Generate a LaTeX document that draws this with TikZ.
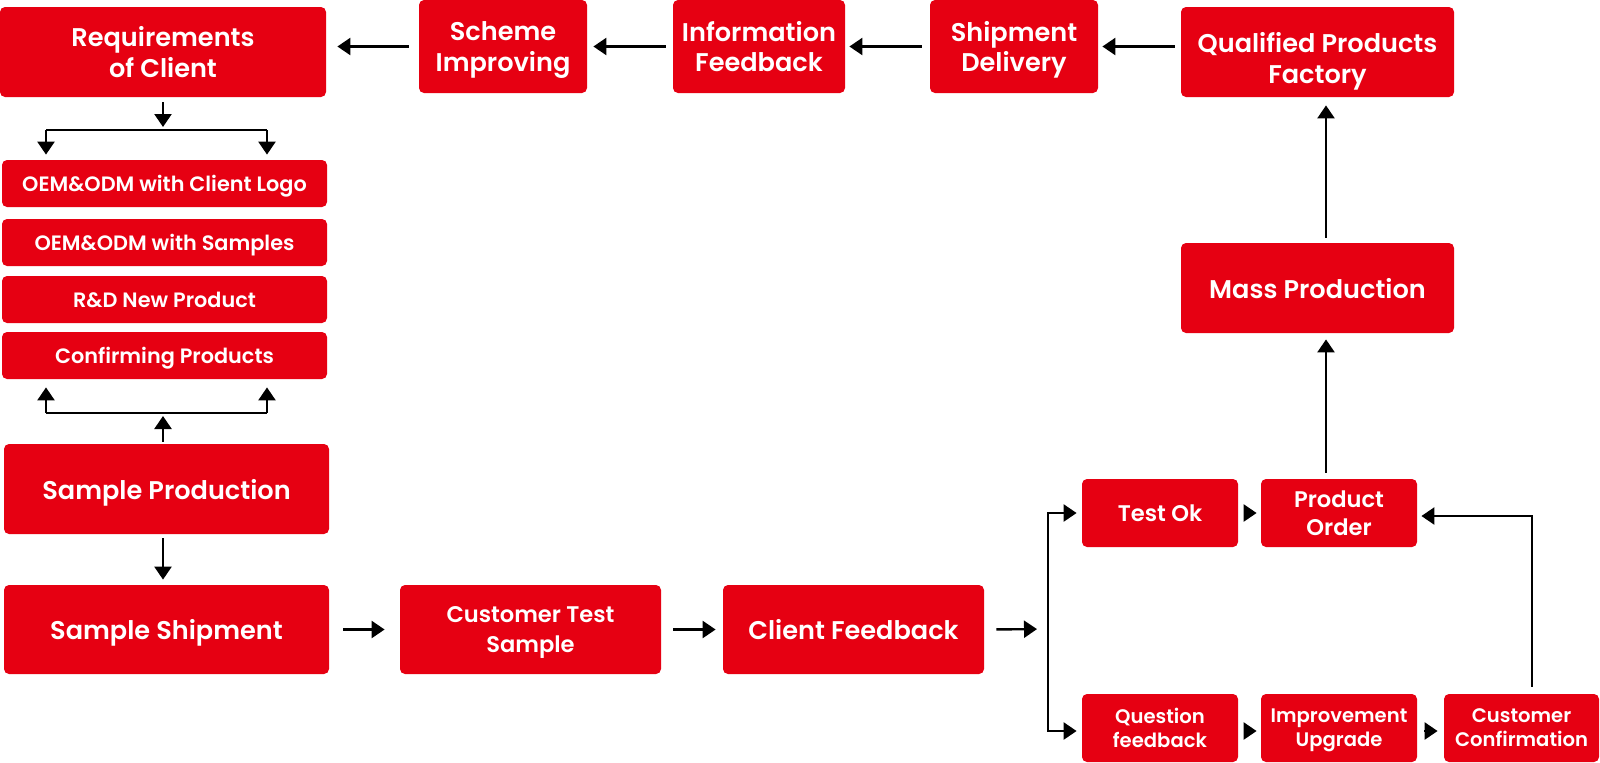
\documentclass[tikz,border=0pt]{standalone}
\usepackage{fontspec}
\setmainfont{Poppins}[UprightFont={* SemiBold}]
\usepackage{tikz}
\usetikzlibrary{arrows.meta}
\definecolor{boxred}{RGB}{230,0,18}

\begin{document}
\begin{tikzpicture}[x=0.5pt,y=-0.5pt]

\tikzset{
    box/.style={fill=boxred,text=white,rounded corners=2.5pt,align=center,inner sep=0pt,text depth=0pt},
    bigtext/.style={font=\fontsize{12.8}{15.3}\selectfont},
    midtext/.style={font=\fontsize{11.3}{14}\selectfont},
    listtext/.style={font=\fontsize{10.4}{12}\selectfont},
    smalltext/.style={font=\fontsize{9.8}{12}\selectfont},
    edge/.style={-{Triangle[length=6.5pt,width=8.5pt]},line width=1.2pt,shorten <=3pt,shorten >=2pt},
    bar/.style={line width=1.2pt}
}
% variables
\def\colx{163}
\def\leftx{46}
\def\rightx{267}

\useasboundingbox (0,0) rectangle (1600,762);

% ----------- top row ----------- %
\node[box,bigtext,minimum width=163pt,minimum height=45pt] (req) at (163,52) {Requirements\\of Client};
\node[box,bigtext,minimum width=84pt,minimum height=46.5pt] (scheme) at (503,46.5) {Scheme\\Improving};
\node[box,bigtext,minimum width=86pt,minimum height=46.5pt] (info) at (759,46.5) {Information\\Feedback};
\node[box,bigtext,minimum width=84pt,minimum height=46.5pt] (ship) at (1014,46.5) {Shipment\\Delivery};
\node[box,bigtext,text height=31pt,minimum width=136.5pt,minimum height=45pt] (qual) at (1317.5,52) {Qualified Products\\Factory};
\node[box,bigtext,minimum width=136.5pt,minimum height=45pt] (mass) at (1317.5,288) {Mass Production};

% ----------- left column ----------- %
\node[box,listtext,minimum width=162.5pt,minimum height=23.5pt] (logo) at (164.5,183.5) {OEM\&ODM with Client Logo};
\node[box,listtext,minimum width=162.5pt,minimum height=23.5pt] (samples) at (164.5,242.5) {OEM\&ODM with Samples};
\node[box,listtext,minimum width=162.5pt,minimum height=23.5pt] (rnd) at (164.5,299.5) {R\&D New Product};
\node[box,listtext,minimum width=162.5pt,minimum height=23.5pt] (confirm) at (164.5,355.5) {Confirming Products};
\node[box,bigtext,minimum width=162.5pt,minimum height=45pt] (sprod) at (166.5,489) {Sample Production};
\node[box,bigtext,minimum width=162.5pt,minimum height=44.5pt] (sship) at (166.5,629.5) {Sample Shipment};

% ----------- bottom row ----------- %
\node[box,font=\fontsize{11.3}{15}\selectfont,minimum width=130.5pt,minimum height=44.5pt] (ctest) at (530.5,629.5) {Customer Test\\Sample};
\node[box,bigtext,minimum width=130.5pt,minimum height=44.5pt] (cfb) at (853.5,629.5) {Client Feedback};

% ----------- right block ----------- %
\node[box,midtext,minimum width=78pt,minimum height=34pt] (testok) at (1160,513) {Test Ok};
\node[box,midtext,minimum width=78pt,minimum height=34pt] (order) at (1339,513) {Product\\Order};
\node[box,smalltext,minimum width=78pt,minimum height=34pt] (quest) at (1160,728) {Question\\feedback};
\node[box,smalltext,minimum width=78pt,minimum height=34pt] (improve) at (1339,728) {Improvement\\Upgrade};
\node[box,smalltext,minimum width=77.5pt,minimum height=34pt] (custconf) at (1521.5,728) {Customer\\Confirmation};

% branch points
\coordinate (split) at (\colx,130);
\coordinate (splitl) at (\leftx,130);
\coordinate (splitr) at (\rightx,130);
\coordinate (join) at (\colx,413);
\coordinate (joinl) at (\leftx,413);
\coordinate (joinr) at (\rightx,413);
\coordinate (fork) at (1048,629);

% top row edges
\draw[edge] (qual.west |- ship.east) -- (ship.east);
\draw[edge,shorten <=4pt] (ship.west) -- (info.east);
\draw[edge,shorten <=3.5pt,shorten >=3pt] (info.west) -- (scheme.east);
\draw[edge,shorten <=5pt,shorten >=5.5pt] (scheme.west) -- (req.east |- scheme.west);

% left column edges
\draw[edge,shorten <=2.5pt,shorten >=1.5pt] (req.south -| split) -- (split);
\draw[bar] (splitl) -- (splitr);
\draw[edge,shorten <=0pt,shorten >=2.5pt] (splitl) -- (splitl |- logo.north);
\draw[edge,shorten <=0pt,shorten >=2.5pt] (splitr) -- (splitr |- logo.north);
\draw[bar] (joinl) -- (joinr);
\draw[edge,shorten <=0pt,shorten >=4pt] (joinl) -- (joinl |- confirm.south);
\draw[edge,shorten <=0pt,shorten >=4pt] (joinr) -- (joinr |- confirm.south);
\draw[edge,shorten <=1pt,shorten >=1.5pt] (sprod.north -| join) -- (join);
\draw[edge,shorten <=2pt,shorten >=2.5pt] (sprod.south -| join) -- (sship.north -| join);

% bottom row edges
\draw[edge,shorten <=7pt,shorten >=7.5pt] (sship.east) -- (ctest.west);
\draw[edge,shorten <=6pt,shorten >=3.5pt] (ctest.east) -- (cfb.west);
\draw[edge,shorten <=6pt,shorten >=5.5pt] (cfb.east) -- (fork);
\draw[edge,shorten <=0pt,shorten >=2.5pt] (fork) |- (testok.west);
\draw[edge,shorten <=0pt,shorten >=2.5pt] (fork) |- ([yshift=-1.5pt]quest.west);

% right block edges
\draw[edge] (testok.east) -- (order.east -| order.west);
\draw[edge,shorten <=3.5pt] ([yshift=-1.5pt]quest.east) -- ([yshift=-1.5pt]improve.west);
\draw[edge,shorten <=3.5pt,shorten >=3pt] ([yshift=-1.5pt]improve.east) -- ([yshift=-1.5pt]custconf.west);
\draw[edge,shorten <=3.5pt] ([xshift=5.25pt]custconf.north) |- ([yshift=-1.5pt]order.east);
\draw[edge,shorten >=3pt] ([xshift=-6.5pt]order.north) -- ([xshift=4.25pt]mass.south);
\draw[edge,shorten <=2.5pt,shorten >=4pt] ([xshift=4.25pt]mass.north) -- ([xshift=4.25pt]qual.south);

\end{tikzpicture}
\end{document}
